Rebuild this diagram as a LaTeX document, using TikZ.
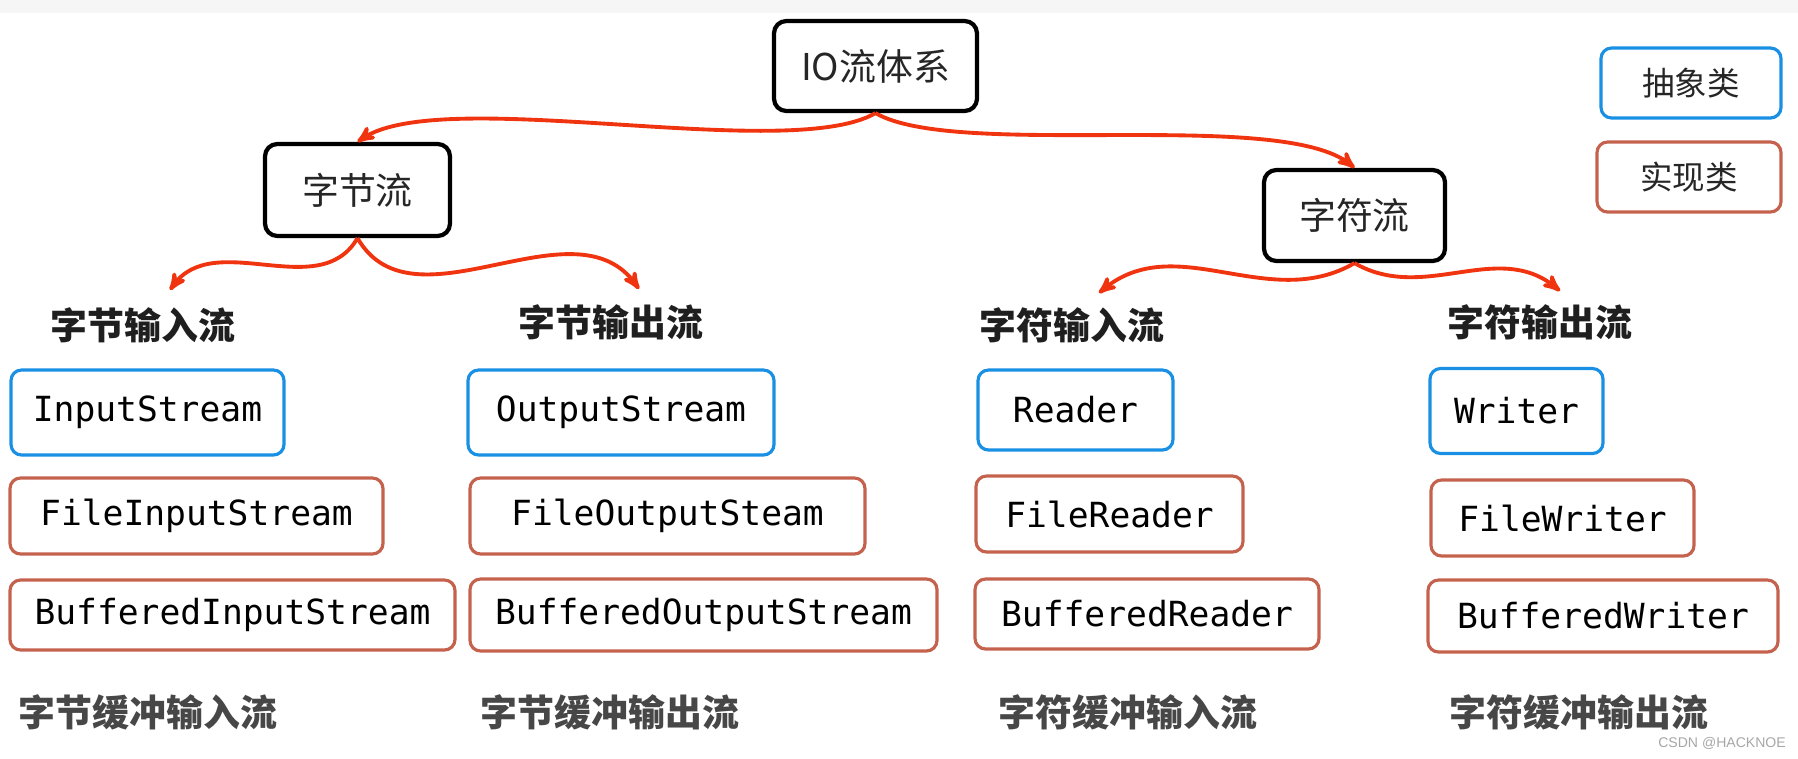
\documentclass[tikz,border=0pt]{standalone}
\usepackage{fontspec}
\setmainfont{Noto Sans CJK SC}
\setmonofont{DejaVu Sans Mono}
\newfontfamily\wmfont{Liberation Sans}
\usepackage{tikz}
\usetikzlibrary{positioning}
\usetikzlibrary{shapes.geometric, arrows}
\newlength\pix
\setlength\pix{0.02cm}
\definecolor{absblue}{RGB}{26,144,228}
\definecolor{implred}{RGB}{196,98,78}
\definecolor{arrred}{RGB}{240,52,16}
\tikzstyle{arrow}=[->,>=stealth',line width=2.2pt,arrred]
\tikzstyle{topbox}=[draw=black,line width=2.4pt,rounded corners=7pt,inner sep=0pt,font=\fontsize{21}{25}\selectfont,text=black!85]
\tikzstyle{absbox}=[draw=absblue,line width=1.8pt,rounded corners=6pt,inner sep=0pt,font=\ttfamily\fontsize{19.7}{24}\selectfont]
\tikzstyle{implbox}=[draw=implred,line width=1.8pt,rounded corners=6pt,inner sep=0pt,font=\ttfamily\fontsize{19.7}{24}\selectfont]
\tikzstyle{legend}=[inner sep=0pt,font=\fontsize{18.5}{22}\selectfont,text=black!85]
\tikzstyle{head}=[font=\bfseries\fontsize{21}{25}\selectfont,text=black!88]
\tikzstyle{foot}=[font=\bfseries\fontsize{21}{25}\selectfont,text=black!72]

\begin{document}
\begin{tikzpicture}[x=0.02cm,y=-0.02cm]
	\useasboundingbox (0,0) rectangle (1798,758);
	\fill[gray!7] (0,0) rectangle (1798,13);
	% top of the tree
	\node[topbox,minimum width=203\pix,minimum height=90\pix] (io) at (875.5,66) {IO流体系};
	\node[topbox,minimum width=185\pix,minimum height=92\pix] (byte) at (357.5,190) {字节流};
	\node[topbox,minimum width=181\pix,minimum height=91\pix] (char) at (1354.5,215.5) {字符流};
	% legend
	\node[legend,draw=absblue,line width=1.8pt,rounded corners=6pt,minimum width=180\pix,minimum height=70\pix] (abs) at (1691,83) {抽象类};
	\node[legend,draw=implred,line width=1.8pt,rounded corners=6pt,minimum width=184\pix,minimum height=70\pix] (impl) at (1689,177) {实现类};
	% headings
	\node[head] (bin) at (143,325) {字节输入流};
	\node[head] (bout) at (611,322) {字节输出流};
	\node[head] (cin) at (1072,325) {字符输入流};
	\node[head] (cout) at (1540,322) {字符输出流};
	\coordinate (binT) at (170,290);
	\coordinate (boutT) at (639,289);
	\coordinate (cinT) at (1099,293);
	\coordinate (coutT) at (1560,291);
	% abstract classes
	\node[absbox,minimum width=273\pix,minimum height=85\pix] (is) at (147.5,412.5) {InputStream};
	\node[absbox,minimum width=306\pix,minimum height=85\pix] (os) at (621,412.5) {OutputStream};
	\node[absbox,minimum width=195\pix,minimum height=80\pix] (rd) at (1075.5,410) {Reader};
	\node[absbox,minimum width=173\pix,minimum height=85\pix] (wr) at (1516.5,411) {Writer};
	% file classes
	\node[implbox,minimum width=373\pix,minimum height=76\pix] (fis) at (196.5,516) {FileInputStream};
	\node[implbox,minimum width=395\pix,minimum height=76\pix] (fos) at (667.5,516) {FileOutputSteam};
	\node[implbox,minimum width=267\pix,minimum height=76\pix] (frd) at (1109.5,514) {FileReader};
	\node[implbox,minimum width=263\pix,minimum height=76\pix] (fwr) at (1562.5,518) {FileWriter};
	% buffered classes
	\node[implbox,minimum width=445\pix,minimum height=70\pix] (bis) at (232.5,615) {BufferedInputStream};
	\node[implbox,minimum width=467\pix,minimum height=72\pix] (bos) at (703.5,615) {BufferedOutputStream};
	\node[implbox,minimum width=344\pix,minimum height=70\pix] (brd) at (1147,614) {BufferedReader};
	\node[implbox,minimum width=350\pix,minimum height=72\pix] (bwr) at (1603,616) {BufferedWriter};
	% footers
	\node[foot] (bbin) at (148,712) {字节缓冲输入流};
	\node[foot] (bbout) at (610,712) {字节缓冲输出流};
	\node[foot] (bcin) at (1128,712) {字符缓冲输入流};
	\node[foot] (bcout) at (1579,712) {字符缓冲输出流};
	\node[font=\wmfont\fontsize{8}{9}\selectfont,text=gray!70,anchor=east] (wm) at (1792,743) {CSDN @HACKNOE};
	% arrows
	\draw[arrow] (io.south) to[out=-150,in=35,looseness=0.5] (byte.north);
	\draw[arrow] (io.south) to[out=-30,in=140,looseness=0.5] (char.north);
	\draw[arrow] (byte.south) to[out=-120,in=55] (binT);
	\draw[arrow] (byte.south) to[out=-60,in=125] (boutT);
	\draw[arrow] (char.south) to[out=-150,in=40] (cinT);
	\draw[arrow] (char.south) to[out=-30,in=140] (coutT);
\end{tikzpicture}
\end{document}
